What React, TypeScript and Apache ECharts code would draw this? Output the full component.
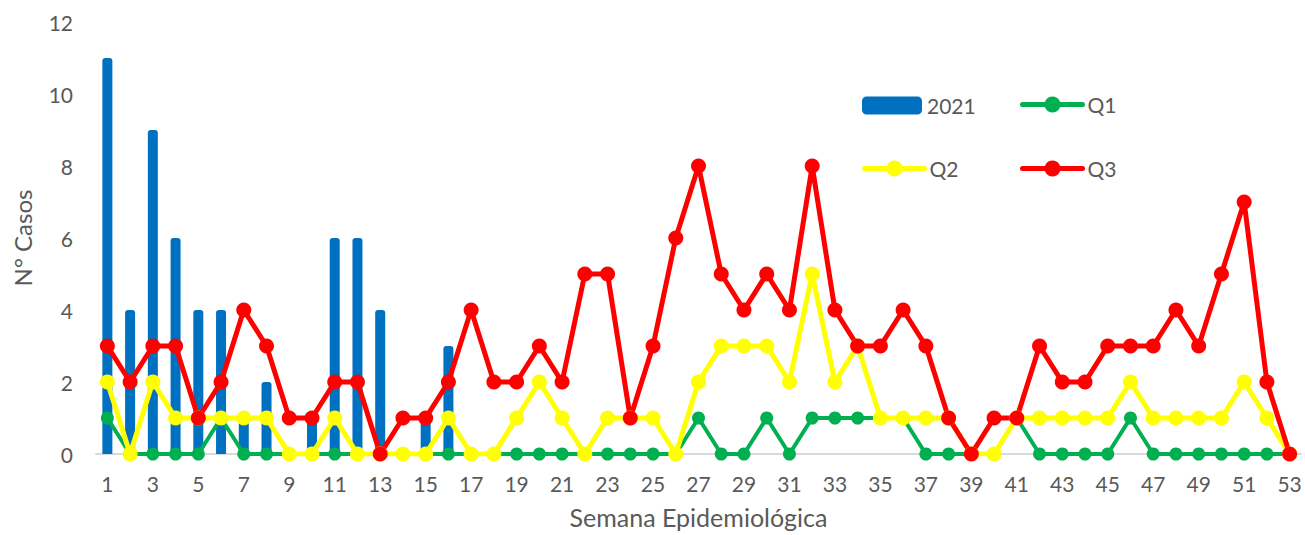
import React, { useEffect, useRef } from "react";
import * as echarts from "echarts";

const weeks: string[] = Array.from({ length: 53 }, (_, i) => String(i + 1));

const cases2021: number[] = [
  11, 4, 9, 6, 4, 4, 1, 2, 0, 1, 6, 6, 4, 0, 1, 3, 0, 0, 0, 0,
  0, 0, 0, 0, 0, 0, 0, 0, 0, 0, 0, 0, 0, 0, 0, 0, 0, 0, 0, 0,
  0, 0, 0, 0, 0, 0, 0, 0, 0, 0, 0, 0, 0,
];

const q1: number[] = [
  1, 0, 0, 0, 0, 1, 0, 0, 0, 0, 0, 0, 0, 0, 0, 0, 0, 0, 0, 0,
  0, 0, 0, 0, 0, 0, 1, 0, 0, 1, 0, 1, 1, 1, 1, 1, 0, 0, 0, 0,
  1, 0, 0, 0, 0, 1, 0, 0, 0, 0, 0, 0, 0,
];

const q2: number[] = [
  2, 0, 2, 1, 1, 1, 1, 1, 0, 0, 1, 0, 0, 0, 0, 1, 0, 0, 1, 2,
  1, 0, 1, 1, 1, 0, 2, 3, 3, 3, 2, 5, 2, 3, 1, 1, 1, 1, 0, 0,
  1, 1, 1, 1, 1, 2, 1, 1, 1, 1, 2, 1, 0,
];

const q3: number[] = [
  3, 2, 3, 3, 1, 2, 4, 3, 1, 1, 2, 2, 0, 1, 1, 2, 4, 2, 2, 3,
  2, 5, 5, 1, 3, 6, 8, 5, 4, 5, 4, 8, 4, 3, 3, 4, 3, 1, 0, 1,
  1, 3, 2, 2, 3, 3, 3, 4, 3, 5, 7, 2, 0,
];

const FONT = "Lato, 'Liberation Sans', sans-serif";
const GRAY = "#595959";

export default function App() {
  const ref = useRef<HTMLDivElement>(null);

  useEffect(() => {
    if (!ref.current) return;
    const chart = echarts.init(ref.current, undefined, { renderer: "svg" });

    const lineSeries = (name: string, data: number[], color: string, width: number, size: number) => ({
      name,
      type: "line",
      data,
      symbol: "circle",
      symbolSize: size,
      lineStyle: { color, width },
      itemStyle: { color },
      z: 3,
    });

    const legendText = { color: GRAY, fontSize: 21, fontFamily: FONT };
    const legendItem = (name: string, left: number, top: number, isLine: boolean) => ({
      data: [name],
      left,
      top,
      itemWidth: 60,
      itemHeight: isLine ? 20 : 18,
      itemGap: 0,
      padding: 0,
      textStyle: legendText,
      ...(isLine ? { lineStyle: { width: 5, cap: "round" } } : {}),
    });

    chart.setOption({
      animation: false,
      textStyle: { fontFamily: FONT },
      grid: { left: 96, right: 4, top: 22, bottom: 81, containLabel: false, outerBoundsMode: "none" },
      legend: [
        legendItem("2021", 862, 95, false),
        legendItem("Q1", 1020, 94, true),
        legendItem("Q2", 862, 158, true),
        legendItem("Q3", 1020, 158, true),
      ],
      xAxis: {
        type: "category",
        data: weeks,
        boundaryGap: true,
        axisLine: { lineStyle: { color: "#D9D9D9", width: 2 } },
        axisTick: { show: false },
        axisLabel: { interval: 1, color: GRAY, fontSize: 21, fontFamily: FONT, margin: 19 },
        name: "Semana Epidemiológica",
        nameLocation: "middle",
        nameGap: 50,
        nameTextStyle: { color: GRAY, fontSize: 25, fontFamily: FONT },
      },
      yAxis: {
        type: "value",
        min: 0,
        max: 12,
        interval: 2,
        splitLine: { show: false },
        axisLine: { show: false },
        axisTick: { show: false },
        axisLabel: { color: GRAY, fontSize: 21, fontFamily: FONT, margin: 23 },
        name: "N° Casos",
        nameLocation: "middle",
        nameGap: 62,
        nameTextStyle: { color: GRAY, fontSize: 24, fontFamily: FONT },
      },
      series: [
        {
          name: "2021",
          type: "bar",
          data: cases2021,
          barWidth: 10,
          itemStyle: { color: "#0070C0", borderRadius: [3, 3, 0, 0] },
          z: 2,
        },
        lineSeries("Q1", q1, "#00B050", 4, 13),
        lineSeries("Q2", q2, "#FFFF00", 5, 15),
        lineSeries("Q3", q3, "#FF0000", 5, 15),
      ],
    });

    return () => chart.dispose();
  }, []);

  return <div ref={ref} style={{ width: 1305, height: 535, position: "absolute", left: 0, top: 0 }} />;
}
